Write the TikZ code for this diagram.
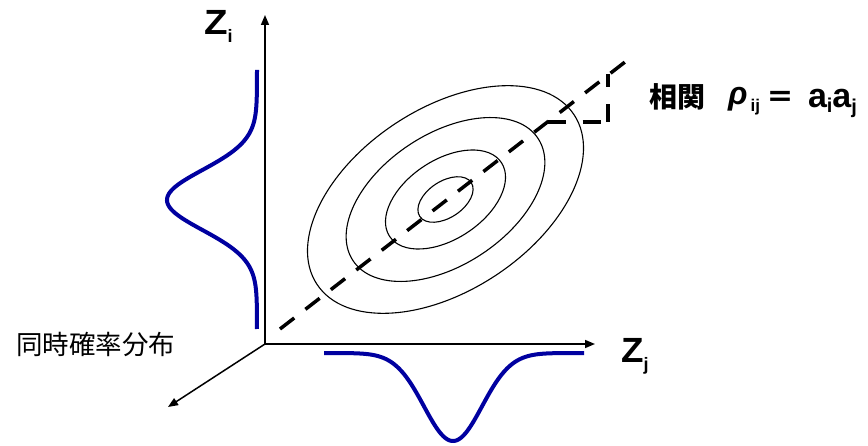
\documentclass[tikz,border=0pt]{standalone}
\usepackage{fontspec}
\setmainfont{Liberation Sans}
\newfontfamily\cjk{Noto Sans CJK JP}
\usetikzlibrary{arrows.meta}
\definecolor{curveblue}{RGB}{0,0,160}
\begin{document}
\begin{tikzpicture}[x=1pt,y=-1pt,
  axis/.style={line width=1.5pt,-{Triangle[length=10pt,width=8pt]}},
  density/.style={curveblue,line width=4pt},
  contour/.style={line width=1.1pt},
  corr/.style={line width=3.5pt,dash pattern=on 18pt off 14.15pt},
  stepline/.style={line width=3.5pt,dash pattern=on 18pt off 17pt},
  lbl/.style={inner sep=0pt,anchor=base west}]
\useasboundingbox (0,0) rectangle (868,446);
% axes
\coordinate (O) at (265,344);
\coordinate (zi) at (265,15);
\coordinate (zj) at (595,344);
\coordinate (zk) at (168,407);
\draw[axis] (O) -- (zi);
\draw[axis] (O) -- (zj);
\draw[axis] (O) -- (zk);
% marginal densities
\draw[density] plot[domain=70:329,samples=150,smooth] ({257-90*exp(-0.5*((\x-200)/30)^2)},\x);
\draw[density] plot[domain=324:584,samples=150,smooth] (\x,{353+88*exp(-0.5*((\x-453)/29)^2)});
% contours
\foreach \s in {1,0.72,0.435,0.2}
  \draw[contour,rotate around={33.4:(445.5,199.5)}] (445.5,199.5) ellipse[x radius=154*\s, y radius=91*\s];
% correlation line and slope step
\coordinate (d0) at (280,329);
\coordinate (d1) at (625,62);
\draw[corr] (d0) -- (d1);
\coordinate (s0) at (547.5,122);
\coordinate (s1) at (608,122);
\coordinate (s2) at (608,74);
\draw[stepline] (s0) -- (s1);
\draw[stepline] (s1) -- (s2);
% labels
\node[lbl] (zilabel) at (204,35) {\fontsize{35}{35}\selectfont\bfseries \scalebox{1.1}[1]{Z}\raisebox{-8pt}{\fontsize{18}{18}\selectfont i}};
\node[lbl] (zjlabel) at (621,363) {\fontsize{35}{35}\selectfont\bfseries \scalebox{1.05}[1]{Z}\raisebox{-7.5pt}{\fontsize{18}{18}\selectfont j}};
\node[lbl] (joint) at (16,355) {\cjk\fontsize{26.5}{26.5}\selectfont 同時確率分布};
\node[lbl] (corrlabel) at (649,108) {{\cjk\bfseries\fontsize{28}{28}\selectfont 相関}%
\hspace{23pt}%
\raisebox{3pt}{\fontsize{32}{32}\selectfont\bfseries\itshape ρ}%
\hspace{3pt}%
\raisebox{-3.5pt}{\fontsize{17}{17}\selectfont\bfseries ij}%
\hspace{6pt}%
{\cjk\bfseries\fontsize{28}{28}\selectfont ＝}%
\hspace{14pt}%
{\fontsize{34}{34}\selectfont\bfseries a\raisebox{-5pt}{\fontsize{20}{20}\selectfont i}a\raisebox{-6pt}{\fontsize{20}{20}\selectfont j}}};
\end{tikzpicture}
\end{document}
